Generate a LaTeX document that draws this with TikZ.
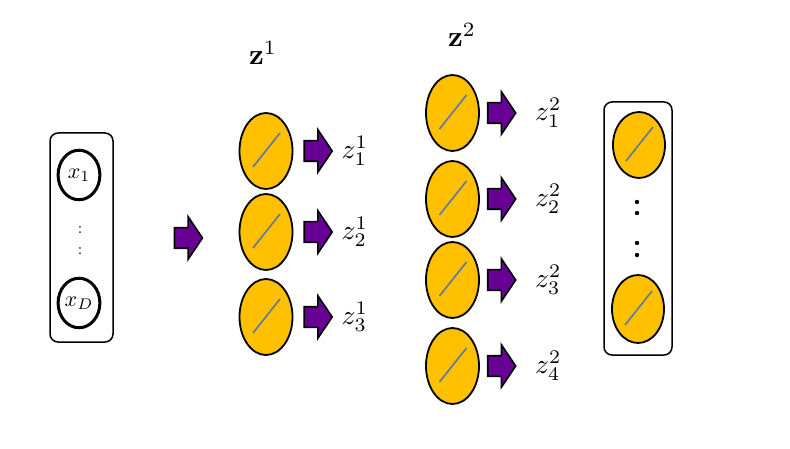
\documentclass[tikz,border=0pt]{standalone}
\usepackage{amsmath}
\usepackage{amssymb}
\usetikzlibrary{positioning,shapes.geometric,shapes.arrows}

\definecolor{unitfill}{RGB}{255,192,0}
\definecolor{arrowfill}{RGB}{105,0,150}
\definecolor{slashcol}{RGB}{95,120,160}

\begin{document}
\begin{tikzpicture}[x=1pt,y=-1pt,
  unit/.style={ellipse,draw,line width=1.8pt,fill=unitfill,inner sep=0pt,minimum width=53pt,minimum height=76pt,
    path picture={\draw[slashcol,line width=1.6pt] ([shift={(-13pt,-16pt)}]path picture bounding box.center)--([shift={(14pt,18pt)}]path picture bounding box.center);}},
  inunit/.style={ellipse,draw,line width=3pt,inner sep=0pt,scale=2.2,minimum width=19pt,minimum height=22.5pt},
  blockarrow/.style={single arrow,draw=black,line width=1.6pt,fill=arrowfill,minimum height=28pt,inner xsep=0pt,inner ysep=9.5pt,
    single arrow head extend=11pt,single arrow tip angle=112,single arrow head indent=0pt},
  zlabel/.style={inner sep=0pt,scale=2.75},
  zhead/.style={inner sep=0pt,scale=2.9},
  layerbox/.style={draw,line width=1.5pt,rounded corners=8pt}]
\useasboundingbox (0,0) rectangle (790,449);

% input layer
\node[layerbox,minimum width=63pt,minimum height=209pt] (inbox) at (81.5,237.5) {};
\node[inunit] (x1) at (79,175) {$x_1$};
\node[inunit] (xD) at (79,303) {$x_D$};
\node[scale=1.6] (dx1) at (80,230) {:};
\node[scale=1.6] (dx2) at (80,251) {:};
\node[blockarrow] (in) at (185,238) {};

% first hidden layer
\node[zhead] (hd1) at (263,53) {$\mathbf{z}^1$};
\foreach \i/\y in {1/151,2/232,3/317}{
  \node[unit] (ha\i) at (266,\y) {};
  \node[blockarrow,right=10pt of ha\i] (aa\i) {};
  \node[zlabel,right=8pt of aa\i] (za\i) {$z^1_\i$};
}

% second hidden layer
\node[zhead] (hd2) at (462,35) {$\mathbf{z}^2$};
\foreach \i/\y in {1/113,2/199,3/280,4/366}{
  \node[unit] (hb\i) at (452.5,\y) {};
  \node[blockarrow,right=7pt of hb\i] (ab\i) {};
  \node[zlabel,right=18pt of ab\i] (zb\i) {$z^2_\i$};
}

% output layer
\node[layerbox,minimum width=68pt,minimum height=253pt] (outbox) at (638,228.5) {};
\node[unit,minimum width=52pt,minimum height=66pt] (o1) at (639,145) {};
\node[unit,minimum width=52pt,minimum height=68pt] (o2) at (638,309) {};
\foreach \y in {202,213,243,255}
  \fill (637,\y) circle (2.2pt);
\end{tikzpicture}
\end{document}
